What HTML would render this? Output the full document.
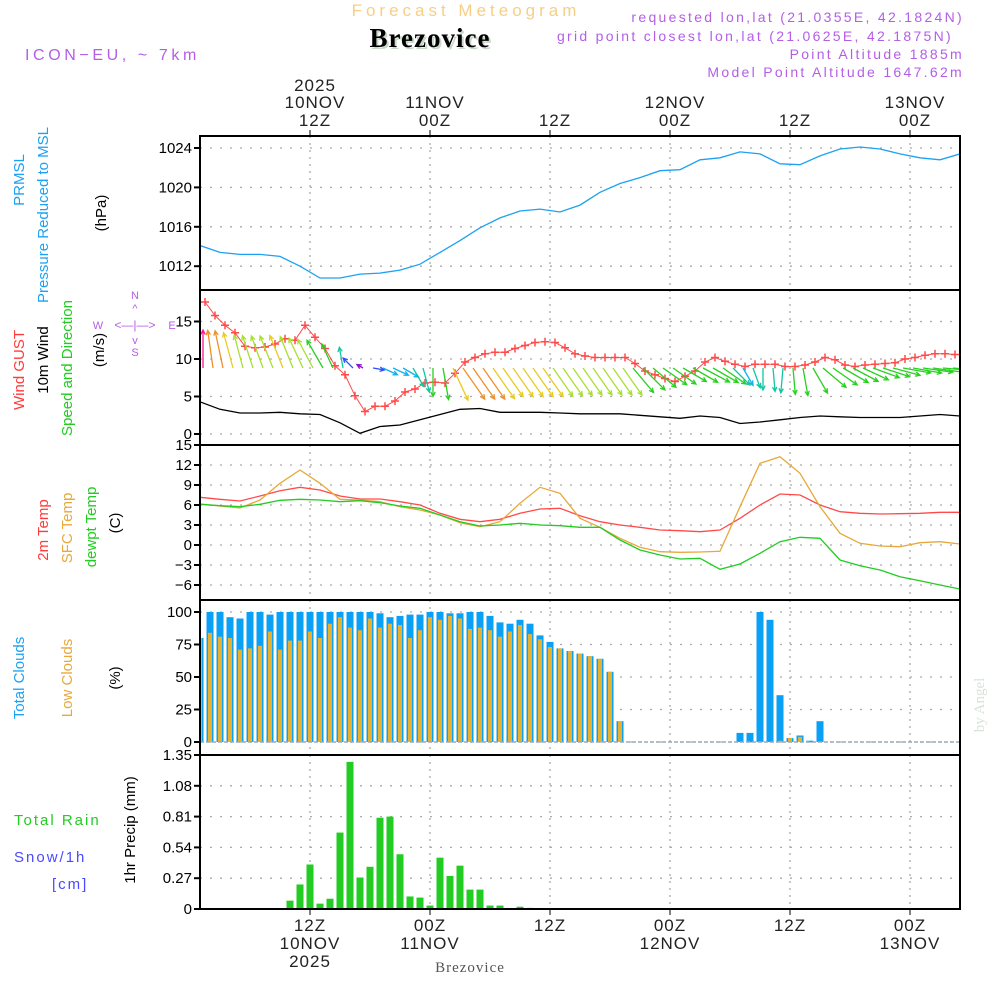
<!DOCTYPE html>
<html><head><meta charset="utf-8"><style>
html,body{margin:0;padding:0;background:#fff;}
svg{display:block;font-family:"Liberation Sans",sans-serif;}
</style></head><body>
<svg id="chart" width="1000" height="1000" viewBox="0 0 1000 1000" xmlns="http://www.w3.org/2000/svg">
<g id="grid"></g>
<g id="marks"></g>
<g id="frame"></g>
<g id="ticks" font-size="15" fill="#000"></g>
<g>
<text x="466" y="16" font-size="17" fill="#f5cf86" letter-spacing="4" text-anchor="middle">Forecast Meteogram</text>
<text x="432" y="49" font-size="27" font-weight="bold" font-family="Liberation Serif,serif" fill="#c9d8c9" text-anchor="middle" letter-spacing="1">Brezovice</text>
<text x="430" y="47" font-size="27" font-weight="bold" font-family="Liberation Serif,serif" fill="#000" text-anchor="middle" letter-spacing="1">Brezovice</text>
<text x="25" y="60" font-size="16" fill="#b45ee8" letter-spacing="3.6">ICON−EU, ~ 7km</text>
<g font-size="14" fill="#b45ee8" text-anchor="end" letter-spacing="2.3">
<text x="964" y="22">requested lon,lat (21.0355E, 42.1824N)</text>
<text x="953" y="41">grid point closest lon,lat (21.0625E, 42.1875N)</text>
<text x="964" y="59">Point Altitude 1885m</text>
<text x="964" y="77">Model Point Altitude 1647.62m</text>
</g>
<text x="470" y="972" font-size="15" font-family="Liberation Serif,serif" fill="#555" text-anchor="middle" letter-spacing="1">Brezovice</text>
<text transform="translate(984,705) rotate(-90)" font-size="15" font-family="Liberation Serif,serif" fill="#d8e2d8" text-anchor="middle">by Angel</text>
</g>
<g font-size="15" text-anchor="middle">
<text transform="translate(24,180) rotate(-90)" fill="#1da1f2">PRMSL</text>
<text transform="translate(48,215) rotate(-90)" fill="#1da1f2">Pressure Reduced to MSL</text>
<text transform="translate(106,213) rotate(-90)" fill="#000">(hPa)</text>
<text transform="translate(24,370) rotate(-90)" fill="#ff3b3b">Wind GUST</text>
<text transform="translate(48,360) rotate(-90)" fill="#000">10m Wind</text>
<text transform="translate(72,368) rotate(-90)" fill="#22cc22">Speed and Direction</text>
<text transform="translate(104,350) rotate(-90)" fill="#000">(m/s)</text>
<text transform="translate(48,530) rotate(-90)" fill="#ff3b3b">2m Temp</text>
<text transform="translate(72,528) rotate(-90)" fill="#e8a83a">SFC Temp</text>
<text transform="translate(96,527) rotate(-90)" fill="#22cc22">dewpt Temp</text>
<text transform="translate(120,523) rotate(-90)" fill="#000">(C)</text>
<text transform="translate(24,678) rotate(-90)" fill="#1da1f2">Total Clouds</text>
<text transform="translate(72,678) rotate(-90)" fill="#e8a83a">Low Clouds</text>
<text transform="translate(120,678) rotate(-90)" fill="#000">(%)</text>
<text transform="translate(135,830) rotate(-90)" fill="#000">1hr Precip (mm)</text>
<text x="14" y="825" text-anchor="start" fill="#22cc22" letter-spacing="2">Total   Rain</text>
<text x="14" y="862" text-anchor="start" fill="#4a4aff" letter-spacing="2">Snow/1h</text>
<text x="52" y="889" text-anchor="start" fill="#4a4aff" letter-spacing="2">[cm]</text>
</g>
<g font-size="11" fill="#b45ee8" text-anchor="middle">
<text x="135" y="299">N</text><text x="98" y="329">W</text><text x="172" y="329">E</text><text x="135" y="356">S</text>
<text x="135" y="329" font-size="12">&lt;—|—&gt;</text>
<text x="135" y="312" font-size="11">^</text>
<text x="135" y="344" font-size="11">v</text>
</g>
</svg>
<script>
// ---------- data ----------
const pressHours = [1,3,5,7,9,11,13,15,17,19,21,23,25,27,29,31,33,35,37,39,41,43,45,47,49,51,53,55,57,59,61,63,65,67,69,71,73,75,77];
const pressure = [1014.1,1013.4,1013.2,1013.2,1013.0,1012.0,1010.8,1010.8,1011.2,1011.3,1011.6,1012.2,1013.4,1014.6,1015.9,1016.9,1017.6,1017.8,1017.5,1018.2,1019.5,1020.4,1021.0,1021.7,1021.8,1022.8,1023.0,1023.6,1023.4,1022.4,1022.3,1023.2,1023.9,1024.1,1023.9,1023.4,1023.0,1022.8,1023.4];
const windSpeed = [4.3,3.3,2.8,2.8,2.9,2.7,2.6,1.5,0.1,1.0,1.2,1.9,2.6,3.3,3.4,2.9,2.9,2.9,2.8,2.7,2.7,2.7,2.5,2.3,2.1,2.4,2.2,1.4,1.6,1.9,2.2,2.4,2.3,2.2,2.2,2.2,2.4,2.6,2.4];
const gust = [17.6,15.8,14.5,13.5,11.7,11.5,11.6,12.0,12.7,12.5,14.5,12.9,11.4,9.1,7.9,5.1,3.0,3.7,3.7,4.4,5.6,6.0,6.8,6.9,6.8,8.1,9.6,10.2,10.7,10.9,10.9,11.4,11.8,12.2,12.3,12.2,11.5,10.7,10.4,10.2,10.2,10.2,10.2,9.4,8.4,7.9,7.4,7.0,7.7,8.4,9.6,10.2,9.7,9.3,9.0,9.3,9.3,9.3,9.0,9.0,9.2,9.6,10.2,9.9,9.2,9.0,9.2,9.3,9.4,9.5,10.0,10.2,10.5,10.7,10.7,10.6];
const windDir = [0,-8,-12,-15,-15,-18,-20,-22,-22,-22,-25,-28,-30,-25,-10,-45,-60,100,115,115,120,150,165,180,170,155,145,145,145,145,145,145,145,145,145,145,145,145,145,145,145,145,145,140,135,130,125,125,120,120,118,120,125,135,150,160,180,175,185,175,170,150,130,125,120,118,115,110,108,105,100,100,98,98,95,95,95];
const tempHours = pressHours;
const t2m = [7.15,6.85,6.6,7.35,8.15,8.65,8.25,7.35,6.9,6.9,6.5,6.0,4.75,3.85,3.5,3.85,4.75,5.4,5.5,4.4,3.5,3.0,2.65,2.25,2.15,2.0,2.25,4.0,6.0,7.65,7.5,6.0,5.0,4.75,4.65,4.7,4.75,4.9,4.9];
const tSfc = [6.15,5.85,5.55,6.75,9.25,11.25,9.25,6.85,6.75,6.5,5.75,5.25,4.5,3.35,2.75,3.5,6.25,8.65,7.75,4.0,2.65,1.0,-0.35,-1.0,-1.1,-1.05,-0.95,5.75,12.25,13.25,10.75,5.75,1.75,0.25,-0.15,-0.25,0.35,0.5,0.15];
const dewpt = [6.1,5.9,5.75,6.1,6.7,6.85,6.75,6.5,6.65,6.35,5.85,5.5,4.5,3.5,2.85,3.0,3.25,3.0,2.9,2.65,2.65,0.75,-0.75,-1.5,-2.1,-2.0,-3.65,-2.85,-1.25,0.5,1.15,1.0,-2.25,-3.1,-3.75,-4.75,-5.35,-6.0,-6.6];
const cloudStart = 1;
const totalClouds = [80,100,100,96,95,100,100,98,100,100,100,100,100,100,100,100,100,100,99,96,97,98,98,100,100,99,99,100,100,97,92,91,94,91,82,77,72,70,68,66,64,54,16,0,0,0,0,0,0,0,0,0,0,0,7,7,100,94,36,3,5,1,16,0,0,0,0,0,0,0,0,0,0,0,0,0,0];
const lowClouds = [80,84,81,80,71,72,74,85,71,78,78,85,80,91,96,88,86,95,88,91,90,80,86,96,94,97,95,87,88,86,81,85,90,83,79,73,72,70,68,66,64,54,16,0,0,0,0,0,0,0,0,0,0,0,0,0,0,0,1,3,4,0,0,0,0,0,0,0,0,0,0,0,0,0,0,0,0];
const precipStart = 10;
const precip = [0.073,0.215,0.39,0.047,0.09,0.67,1.29,0.276,0.37,0.80,0.81,0.48,0.11,0.10,0.03,0.45,0.29,0.38,0.17,0.17,0.03,0.03,0,0.02,0.01];
const pressTicks = [1012,1016,1020,1024];
const windTicks = [0,5,10,15];
const tempTicks = [-6,-3,0,3,6,9,12,15];
const cloudTicks = [0,25,50,75,100];
const precipTicks = ["0","0.27","0.54","0.81","1.08","1.35"];
const timeTicks = [12,24,36,48,60,72];
const topLabels = [["2025","10NOV","12Z"],["","11NOV","00Z"],["","","12Z"],["","12NOV","00Z"],["","","12Z"],["","13NOV","00Z"]];
const botLabels = [["12Z","10NOV","2025"],["00Z","11NOV",""],["12Z","",""],["00Z","12NOV",""],["12Z","",""],["00Z","13NOV",""]];

// ---------- scales ----------
const L=200,R=960;
const X = t => 190 + 10*t;
const yP = v => 148 + (1024 - v)*9.85;
const yW = v => 434 - v*7.5;
const yT = v => 545 - v*6.667;
const yC = v => 742 - v*1.3;
const yR = v => 909 - v*(154/1.35);
const NS="http://www.w3.org/2000/svg";
function el(tag, attrs, parent){const e=document.createElementNS(NS,tag);for(const k in attrs)e.setAttribute(k,attrs[k]);parent.appendChild(e);return e;}
const grid=document.getElementById('grid'), marks=document.getElementById('marks'), frame=document.getElementById('frame'), ticks=document.getElementById('ticks');

const defs=el('defs',{},document.getElementById('chart'));
const cp=el('clipPath',{id:'plotclip'},defs); el('rect',{x:L,y:136,width:R-L,height:774},cp);
marks.setAttribute('clip-path','url(#plotclip)');

const panels=[{top:136,bot:290},{top:290,bot:445},{top:445,bot:600},{top:600,bot:755},{top:755,bot:909}];
panels.forEach(p=>{
  timeTicks.forEach(t=>{
    const g=el('line',{x1:X(t),x2:X(t),y1:p.top,y2:p.bot,stroke:'#aaa','stroke-width':1.3,'stroke-dasharray':'2,5'},grid);
    
    
  });
});
function hgrid(vals,fy,labels){
  vals.forEach((v,i)=>{
    const y=fy(+v);
    const g=el('line',{x1:L,x2:R,y1:y,y2:y,stroke:'#aaa','stroke-width':1.3,'stroke-dasharray':'2,8'},grid);
    
    
    const tk=el('line',{x1:L-6,x2:L,y1:y,y2:y,stroke:'#000','stroke-width':2},frame);
    
    
    const tx=el('text',{x:L-8,y:y+5,'text-anchor':'end'},ticks);
    tx.textContent = labels ? labels[i] : String(v).replace('-','−');
    
    
  });
}
hgrid(pressTicks,yP); hgrid(windTicks,yW); hgrid(tempTicks,yT); hgrid(cloudTicks,yC); hgrid(precipTicks,yR,precipTicks);

function line(hours,vals,fy,color,name,w){
  const d=vals.map((v,i)=>(i?'L':'M')+X(hours[i]).toFixed(1)+','+fy(v).toFixed(1)).join('');
  const p=el('path',{d:d,fill:'none',stroke:color,'stroke-width':w||1.3},marks);
  
  
}
line(pressHours,pressure,yP,'#1da1f2','pressure-line');
line(pressHours,windSpeed,yW,'#000','wind-speed-line');
const gustHours=gust.map((v,i)=>1.5+i);
line(gustHours,gust,yW,'#ff4a4a','gust-line',1);
gust.forEach((v,i)=>{
  const x=X(gustHours[i]),y=yW(v);
  const m=el('path',{d:`M${x-4},${y}H${x+4}M${x},${y-4}V${y+4}`,stroke:'#ff4a4a','stroke-width':1.5},marks);
  
  
});
function spdAt(t){for(let i=0;i<pressHours.length-1;i++){if(t<=pressHours[i+1]){const f=(t-pressHours[i])/2;return windSpeed[i]*(1-f)+windSpeed[i+1]*f;}}return windSpeed[windSpeed.length-1];}
function colAt(s){if(s>=4)return '#ff1493';if(s>=3.3)return '#f0902a';if(s>=2.9)return '#e8cc20';if(s>=2.65)return '#a8e030';if(s>=2.0)return '#28d020';if(s>=1.5)return '#10c8a0';if(s>=1.0)return '#10b0f0';if(s>=0.5)return '#3050ff';return '#9010d0';}
windDir.forEach((d,i)=>{
  const t=1+i, s=spdAt(t), len=Math.min(38,6+10*s), c=colAt(s);
  const x0=X(t)+3, y0=368, a=d*Math.PI/180;
  const x1=x0+len*Math.sin(a), y1=y0-len*Math.cos(a);
  const h=5, a1=a+Math.PI-0.45, a2=a+Math.PI+0.45;
  const p=el('path',{d:`M${x0},${y0}L${x1},${y1}M${x1+h*Math.sin(a1)},${y1-h*Math.cos(a1)}L${x1},${y1}L${x1+h*Math.sin(a2)},${y1-h*Math.cos(a2)}`,stroke:c,'stroke-width':1.3,fill:'none'},marks);
  
  
});
line(tempHours,t2m,yT,'#ff4a4a','t2m-line');
line(tempHours,tSfc,yT,'#e8a83a','sfc-temp-line');
line(tempHours,dewpt,yT,'#22cc22','dewpoint-line');
totalClouds.forEach((v,i)=>{
  const x=X(cloudStart+i);
  const b=el('rect',{x:x-3.5,y:yC(v),width:7,height:yC(0)-yC(v),fill:'#0aa0f5'},marks);
  
  
  const lv=lowClouds[i];
  const o=el('rect',{x:x-2,y:yC(lv),width:4,height:yC(0)-yC(lv),fill:'#e8b030'},marks);
  
  
});
el('line',{x1:L,x2:R,y1:yC(0),y2:yC(0),stroke:'#9ab','stroke-width':1.5,'stroke-dasharray':'4,2'},marks);
precip.forEach((v,i)=>{
  const x=X(precipStart+i);
  const b=el('rect',{x:x-3.5,y:yR(v),width:7,height:yR(0)-yR(v),fill:'#22cc22'},marks);
  
  
});
panels.forEach(p=>{
  const r=el('rect',{x:L,y:p.top,width:R-L,height:p.bot-p.top,fill:'none',stroke:'#000','stroke-width':2},frame);
  
  
});
timeTicks.forEach((t,i)=>{
  const x=X(t);
  el('line',{x1:x,x2:x,y1:130,y2:136,stroke:'#000','stroke-width':1},frame);
  el('line',{x1:x,x2:x,y1:909,y2:915,stroke:'#000','stroke-width':1},frame);
  topLabels[i].forEach((s,j)=>{ if(!s)return;
    const tx=el('text',{x:x+5,y:[91,108,126][j],'text-anchor':'middle','font-size':17,fill:'#222','letter-spacing':1},ticks);
    tx.textContent=s;
    
    
  });
  botLabels[i].forEach((s,j)=>{ if(!s)return;
    const tx=el('text',{x:x,y:[931,949,967][j],'text-anchor':'middle','font-size':17,fill:'#222','letter-spacing':1},ticks);
    tx.textContent=s;
    
    
  });
});
</script>
</body></html>
